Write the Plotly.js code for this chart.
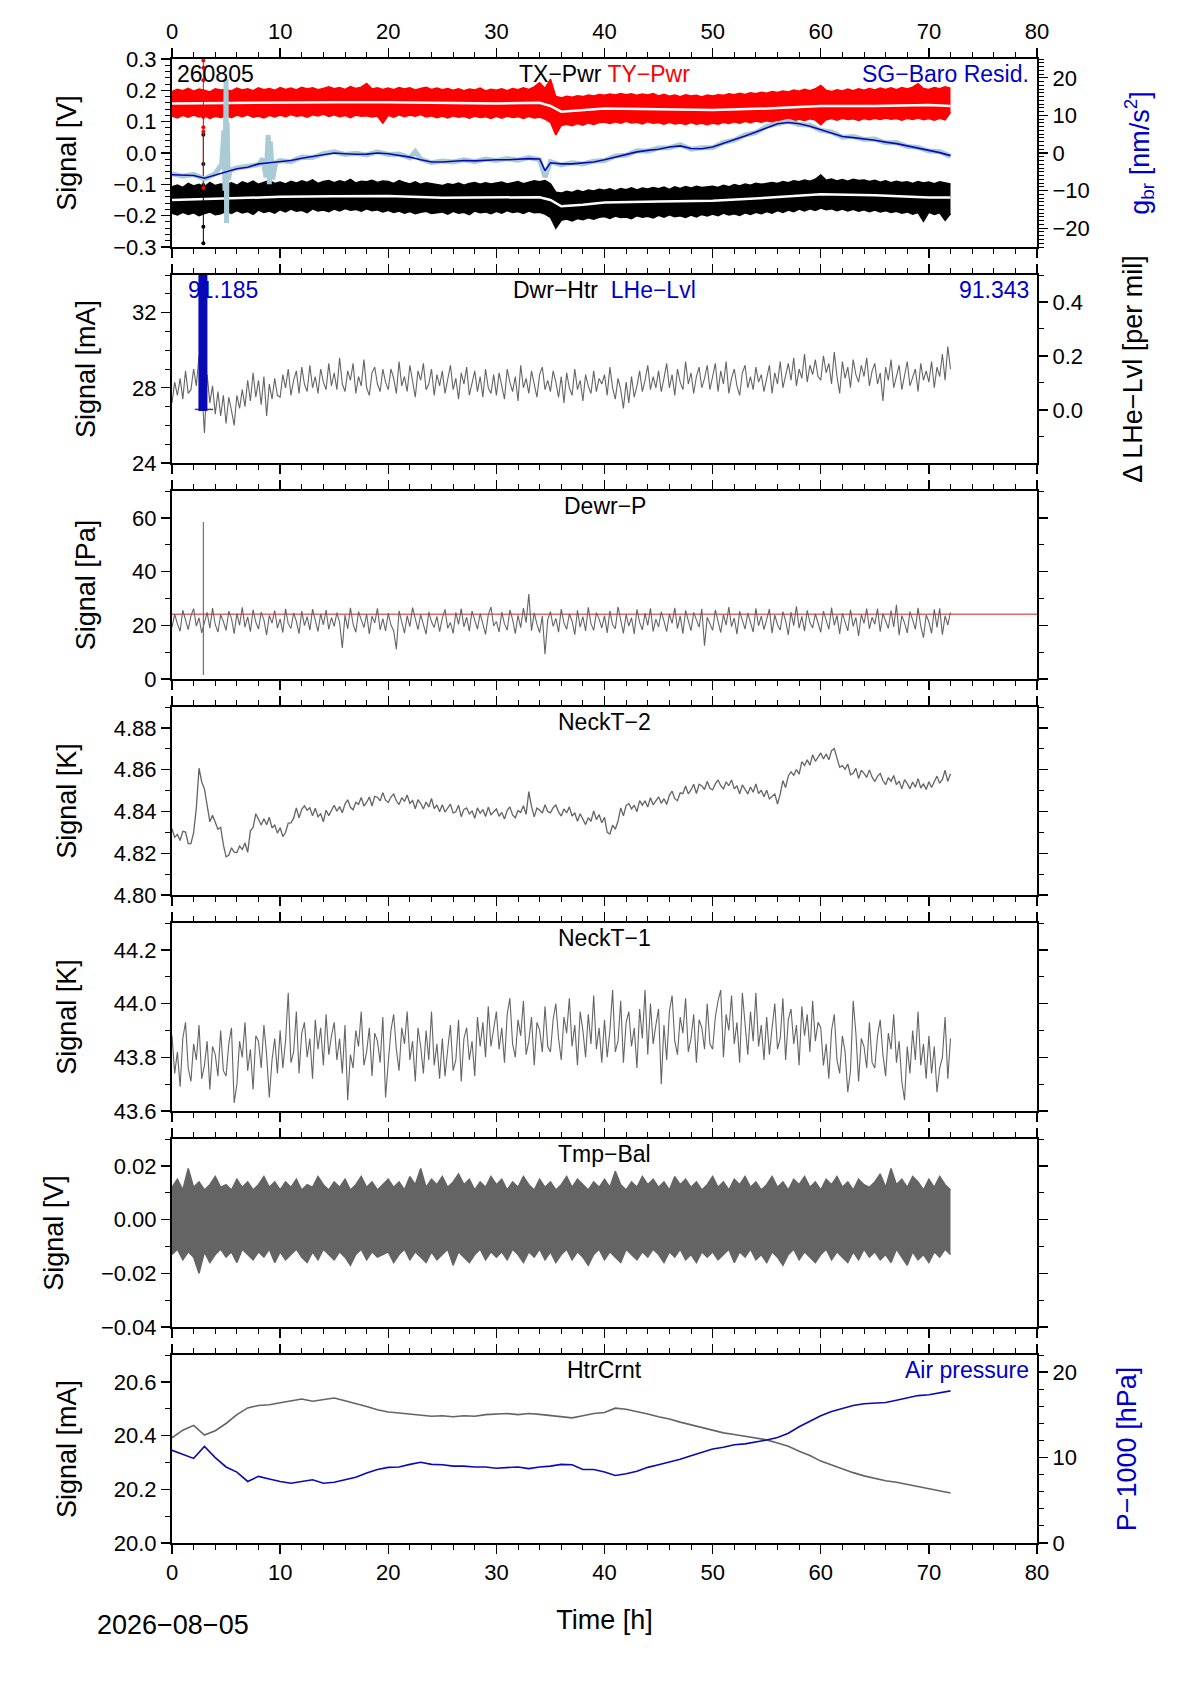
<!DOCTYPE html>
<html>
<head>
<meta charset="utf-8">
<title>Dewar monitor 2026-08-05</title>
<script src="https://cdn.plot.ly/plotly-3.0.1.min.js"></script>
<style>
  html, body { margin: 0; padding: 0; background: #ffffff; }
  #chart { width: 1190px; height: 1684px; }
</style>
</head>
<body>
<div id="chart"></div>
<script>
// ---------------------------------------------------------------------------
// Data. Time is in hours since start of day 2026-08-05.
// Half-hour series start at 0 h with 0.5 h spacing (145 samples, 0..72 h),
// quarter-hour series use 0.25 h spacing (289 samples), hourly ones 1 h.
// ---------------------------------------------------------------------------

// Panel 1: tilt power X/Y [V], upper and lower envelope per half hour
const txPwrUpper = [
  -0.108, -0.102, -0.110, -0.097, -0.105, -0.100, -0.109, -0.094, -0.104, -0.099,
  -0.101, -0.095, -0.103, -0.092, -0.098, -0.090, -0.100, -0.094, -0.088, -0.097,
  -0.093, -0.099, -0.090, -0.096, -0.089, -0.094, -0.086, -0.097, -0.091, -0.088,
  -0.095, -0.089, -0.093, -0.084, -0.096, -0.090, -0.092, -0.087, -0.094, -0.089,
  -0.091, -0.097, -0.088, -0.094, -0.099, -0.092, -0.100, -0.095, -0.098, -0.102,
  -0.104, -0.098, -0.101, -0.096, -0.103, -0.097, -0.094, -0.100, -0.095, -0.099,
  -0.097, -0.093, -0.099, -0.095, -0.091, -0.098, -0.094, -0.089, -0.092, -0.088,
  -0.098, -0.125, -0.128, -0.122, -0.126, -0.119, -0.124, -0.118, -0.121, -0.116,
  -0.119, -0.114, -0.120, -0.113, -0.117, -0.111, -0.118, -0.112, -0.115, -0.110,
  -0.114, -0.109, -0.116, -0.108, -0.113, -0.107, -0.112, -0.106, -0.110, -0.108,
  -0.106, -0.110, -0.103, -0.108, -0.101, -0.105, -0.099, -0.103, -0.097, -0.100,
  -0.098, -0.094, -0.097, -0.091, -0.095, -0.089, -0.092, -0.086, -0.090, -0.084,
  -0.070, -0.087, -0.083, -0.089, -0.085, -0.090, -0.084, -0.088, -0.086, -0.091,
  -0.087, -0.093, -0.089, -0.095, -0.090, -0.094, -0.092, -0.097, -0.091, -0.096,
  -0.093, -0.098, -0.092, -0.096, -0.099
];
const txPwrLower = [
  -0.192, -0.198, -0.189, -0.196, -0.191, -0.200, -0.193, -0.188, -0.197, -0.194,
  -0.186, -0.193, -0.184, -0.191, -0.187, -0.196, -0.182, -0.190, -0.185, -0.192,
  -0.181, -0.188, -0.179, -0.186, -0.183, -0.190, -0.178, -0.185, -0.182, -0.187,
  -0.179, -0.185, -0.177, -0.183, -0.180, -0.186, -0.178, -0.184, -0.181, -0.188,
  -0.183, -0.190, -0.185, -0.192, -0.187, -0.194, -0.189, -0.186, -0.193, -0.190,
  -0.188, -0.195, -0.186, -0.192, -0.189, -0.197, -0.185, -0.191, -0.188, -0.194,
  -0.186, -0.192, -0.184, -0.190, -0.187, -0.193, -0.185, -0.191, -0.189, -0.195,
  -0.205, -0.240, -0.215, -0.211, -0.217, -0.209, -0.213, -0.207, -0.211, -0.205,
  -0.203, -0.209, -0.201, -0.206, -0.204, -0.210, -0.200, -0.205, -0.202, -0.207,
  -0.199, -0.205, -0.197, -0.203, -0.200, -0.206, -0.198, -0.204, -0.196, -0.201,
  -0.195, -0.200, -0.192, -0.198, -0.194, -0.199, -0.191, -0.196, -0.189, -0.194,
  -0.187, -0.192, -0.184, -0.190, -0.182, -0.187, -0.179, -0.185, -0.178, -0.183,
  -0.176, -0.181, -0.178, -0.184, -0.179, -0.185, -0.180, -0.186, -0.181, -0.187,
  -0.182, -0.188, -0.184, -0.190, -0.186, -0.192, -0.188, -0.195, -0.190, -0.218,
  -0.189, -0.196, -0.191, -0.215, -0.194
];
const tyPwrUpper = [
  0.196, 0.203, 0.199, 0.206, 0.197, 0.204, 0.200, 0.195, 0.205, 0.201,
  0.203, 0.198, 0.207, 0.201, 0.205, 0.199, 0.208, 0.202, 0.206, 0.200,
  0.209, 0.203, 0.207, 0.201, 0.210, 0.204, 0.208, 0.202, 0.206, 0.211,
  0.205, 0.209, 0.203, 0.212, 0.206, 0.210, 0.222, 0.204, 0.208, 0.203,
  0.207, 0.202, 0.209, 0.204, 0.208, 0.201, 0.206, 0.210, 0.203, 0.207,
  0.202, 0.206, 0.200, 0.205, 0.199, 0.204, 0.201, 0.207, 0.198, 0.203,
  0.200, 0.205, 0.199, 0.206, 0.202, 0.208, 0.203, 0.211, 0.224, 0.206,
  0.236, 0.180, 0.176, 0.181, 0.178, 0.183, 0.180, 0.185, 0.182, 0.187,
  0.184, 0.188, 0.185, 0.190, 0.186, 0.189, 0.184, 0.188, 0.185, 0.190,
  0.182, 0.187, 0.181, 0.185, 0.180, 0.186, 0.182, 0.184, 0.179, 0.185,
  0.182, 0.186, 0.184, 0.189, 0.186, 0.191, 0.187, 0.192, 0.189, 0.194,
  0.191, 0.196, 0.193, 0.198, 0.195, 0.201, 0.197, 0.203, 0.199, 0.205,
  0.216, 0.200, 0.196, 0.202, 0.198, 0.204, 0.199, 0.205, 0.200, 0.206,
  0.201, 0.207, 0.203, 0.208, 0.202, 0.209, 0.204, 0.210, 0.221, 0.206,
  0.203, 0.209, 0.205, 0.211, 0.207
];
const tyPwrLower = [
  0.118, 0.112, 0.120, 0.114, 0.121, 0.115, 0.119, 0.110, 0.117, 0.113,
  0.119, 0.113, 0.121, 0.116, 0.122, 0.114, 0.118, 0.112, 0.120, 0.115,
  0.121, 0.116, 0.123, 0.117, 0.120, 0.114, 0.122, 0.118, 0.124, 0.117,
  0.122, 0.116, 0.120, 0.113, 0.121, 0.117, 0.119, 0.115, 0.118, 0.095,
  0.120, 0.114, 0.122, 0.116, 0.121, 0.117, 0.123, 0.115, 0.119, 0.113,
  0.118, 0.112, 0.119, 0.114, 0.117, 0.111, 0.118, 0.113, 0.116, 0.110,
  0.117, 0.111, 0.118, 0.113, 0.116, 0.110, 0.117, 0.112, 0.115, 0.108,
  0.098, 0.058, 0.088, 0.092, 0.087, 0.094, 0.089, 0.096, 0.091, 0.097,
  0.099, 0.094, 0.100, 0.095, 0.101, 0.096, 0.098, 0.093, 0.100, 0.095,
  0.097, 0.092, 0.098, 0.093, 0.096, 0.091, 0.097, 0.092, 0.095, 0.090,
  0.096, 0.092, 0.098, 0.094, 0.100, 0.095, 0.101, 0.097, 0.102, 0.098,
  0.103, 0.099, 0.105, 0.101, 0.107, 0.102, 0.108, 0.104, 0.109, 0.105,
  0.090, 0.106, 0.110, 0.105, 0.111, 0.107, 0.109, 0.104, 0.110, 0.106,
  0.111, 0.107, 0.112, 0.108, 0.110, 0.105, 0.111, 0.107, 0.112, 0.106,
  0.110, 0.105, 0.111, 0.106, 0.130
];
const pwrMeanTimes = [0, 5, 10, 15, 20, 25, 30, 34, 35, 36, 38, 40, 45, 50, 55, 60, 65, 70, 72];
const txPwrMean = [-0.150, -0.145, -0.140, -0.138, -0.137, -0.143, -0.142, -0.141, -0.150, -0.170,
  -0.165, -0.158, -0.155, -0.152, -0.143, -0.132, -0.135, -0.142, -0.142];
const tyPwrMean = [0.158, 0.160, 0.162, 0.162, 0.162, 0.160, 0.158, 0.160, 0.150, 0.132,
  0.138, 0.142, 0.140, 0.137, 0.142, 0.150, 0.150, 0.153, 0.150];

// the disturbance near 2.9 h
const txSpikeTimes = [2.9, 2.9, 2.9, 2.9, 2.9, 2.9, 2.9];
const txSpikeValues = [0.058, -0.035, -0.102, -0.118, -0.185, -0.235, -0.288];
const tySpikeTimes = [2.9, 2.9, 2.9, 2.9, 2.9, 2.9, 2.9, 2.9];
const tySpikeValues = [0.295, 0.272, 0.232, 0.190, 0.115, 0.082, 0.068, -0.112];

// Panel 1, right axis: SG minus barometric response [nm/s^2]
const sgResidTimes = [
  0, 1, 2, 3, 4, 5, 6, 7, 8, 9, 10, 11, 12, 13, 14, 15, 16, 17, 18, 19,
  20, 21, 22, 23, 24, 25, 26, 27, 28, 29, 30, 31, 32, 33, 34, 34.5, 35, 36, 37, 38, 39,
  40, 41, 42, 43, 44, 45, 46, 47, 48, 49, 50, 51, 52, 53, 54, 55, 56, 57, 58, 59,
  60, 61, 62, 63, 64, 65, 66, 67, 68, 69, 70, 71, 72
];
const sgResidValues = [
  -5.8, -5.9, -6.0, -6.7, -5.8, -4.9, -4.2, -3.8, -2.9, -2.6,
  -2.3, -2.0, -1.4, -0.9, -0.45, 0.0, -0.2, -0.35, -0.3, 0.0,
  -0.2, -0.6, -1.1, -1.8, -2.4, -2.4, -2.2, -2.0, -2.1, -1.9,
  -1.8, -1.8, -1.7, -1.5, -1.6, -4.7, -2.6, -2.9, -2.9, -2.7, -2.4,
  -1.8, -1.1, -0.35, 0.3, 0.7, 1.0, 1.6, 1.9, 1.2, 1.15,
  1.6, 2.5, 3.6, 4.5, 5.6, 6.8, 7.8, 8.1, 7.8, 7.1,
  6.2, 5.3, 4.4, 4.1, 3.8, 3.4, 2.9, 2.5, 1.9, 1.2,
  0.7, 0.1, -0.7
];
const sgRawTimes = [
  0, 1, 2, 3, 4, 4.6, 4.8, 4.9, 5, 5.05, 5.1, 5.2, 5.4, 6, 7, 8,
  8.4, 8.7, 8.9, 9, 9.1, 9.3, 9.6, 10, 11, 12, 13, 14, 15, 16, 17, 18, 19,
  20, 21, 22, 22.5, 23, 24, 25, 26, 27, 28, 29, 30, 31, 32, 33, 34, 34.5, 35, 36, 37, 38, 39,
  40, 41, 42, 43, 44, 45, 46, 47, 48, 49, 50, 51, 52, 53, 54, 55, 56, 57, 58, 59,
  60, 61, 62, 63, 64, 65, 66, 67, 68, 69, 70, 71, 72
];
const sgRawValues = [
  -5.5, -6.2, -5.7, -6.9, -5.5, -3.0, 6.0, -10.0, 19.6, -18.6, 8.0, -7.0, -4.5, -4.0, -3.5, -3.1,
  -1.5, -6.5, 4.8, -8.3, 3.0, -7.0, -2.5, -2.0, -2.3, -1.1, -1.2, -0.2, 0.3, -0.4, -0.1, -0.5, 0.3,
  -0.4, -0.3, -1.3, 0.4, -1.6, -2.6, -2.1, -2.4, -1.8, -2.3, -1.6, -2.0, -1.5, -1.9, -1.2, -1.8, -6.4, -2.3, -3.2, -2.6, -2.9, -2.2,
  -2.0, -0.8, -0.6, 0.6, 0.5, 1.3, 1.4, 2.2, 1.0, 1.4, 1.4, 2.8, 3.4, 4.8, 5.4, 7.1, 7.6, 8.4, 7.6, 7.4,
  6.0, 5.6, 4.2, 4.4, 3.6, 3.7, 2.7, 2.8, 1.7, 1.5, 0.5, 0.4, -0.9
];

// Panel 2: dewar heater current [mA] (quarter-hourly), helium level marker
const dwrHtrValues = [
  27.2, 28.3, 27.6, 28.5, 27.4, 28.9, 27.7, 27.9, 29.0, 28.1, 29.7, 28.0, 25.6, 28.7, 27.2, 28.1, 26.6, 27.8, 26.5, 27.6,
  26.1, 27.5, 26.8, 26.0, 27.6, 26.9, 27.9, 27.0, 28.4, 27.3, 28.8, 27.5, 28.4, 27.1, 28.6, 26.5, 28.2, 27.4, 28.5, 27.6,
  27.5, 28.7, 28.0, 29.0, 27.6, 28.4, 28.9, 27.7, 29.1, 28.2, 27.8, 29.2, 28.0, 28.6, 27.7, 29.0, 28.3, 27.9, 29.3, 28.1,
  28.8, 27.9, 29.6, 28.2, 27.8, 28.9, 28.4, 29.3, 27.7, 28.6, 28.1, 29.5, 28.0, 27.6, 28.8, 29.1, 28.2, 27.8, 29.0, 28.3,
  27.9, 29.0, 28.5, 27.7, 29.4, 28.1, 28.6, 27.8, 29.2, 28.3, 27.5, 28.9, 28.4, 29.3, 27.9, 28.2, 29.0, 27.6, 28.7, 28.1,
  28.9, 27.7, 28.4, 29.2, 27.9, 28.5, 27.4, 28.8, 28.2, 29.1, 27.6, 28.3, 28.9, 27.8, 28.6, 27.5, 29.0, 28.0, 27.7, 28.7,
  27.6, 28.8, 28.1, 27.4, 29.0, 28.3, 27.8, 28.6, 27.3, 29.2, 28.0, 28.5, 27.7, 28.9, 28.2, 27.5, 28.7, 29.1, 27.9, 28.4,
  27.8, 28.9, 28.3, 27.5, 28.6, 27.2, 28.8, 28.0, 27.6, 29.0, 27.9, 28.4, 27.3, 28.7, 28.1, 27.7, 28.9, 27.8, 28.5, 28.2,
  28.7, 27.6, 29.1, 28.0, 27.4, 28.5, 27.9, 26.9, 28.3, 27.2, 28.6, 27.5, 28.1, 28.9, 27.8, 28.4, 29.2, 27.9, 28.6, 28.0,
  28.9, 27.8, 28.5, 29.3, 28.0, 28.7, 27.6, 29.0, 28.3, 27.9, 29.4, 28.2, 28.8, 27.7, 28.6, 29.1, 28.0, 28.5, 29.2, 27.9,
  28.6, 29.3, 27.8, 28.9, 28.2, 29.4, 27.7, 28.5, 29.0, 28.1, 27.6, 28.8, 29.2, 28.0, 28.6, 27.9, 29.1, 28.3, 28.7, 27.8,
  28.5, 29.2, 27.7, 28.8, 28.2, 29.4, 28.0, 28.6, 29.3, 28.4, 29.6, 28.1, 29.0, 28.5, 29.8, 28.3, 29.2, 28.7, 29.5, 28.6,
  28.4, 29.7, 28.8, 29.3, 28.2, 29.9, 28.6, 27.7, 29.4, 28.5, 29.1, 28.0, 29.5, 28.7, 28.3, 29.2, 28.6, 29.6, 28.1, 28.9,
  29.3, 28.2, 28.8, 27.3, 29.1, 28.4, 29.5, 28.0, 28.7, 29.2, 27.9, 28.6, 29.4, 28.1, 28.5, 29.0, 27.8, 29.3, 28.4, 28.9,
  28.3, 29.4, 28.0, 29.1, 28.6, 29.8, 28.4, 30.2, 29.0
];
const lheLvlTimes = [2.86, 2.86];
const lheLvlValues = [-0.004, 0.52];
const lheCapTimes = [2.1, 3.8];
const lheCapValues = [26.85, 26.85];

// Panel 3: dewar pressure [Pa] (quarter-hourly) and its alarm level
const dewrPValues = [
  19.2, 24.1, 20.5, 17.8, 25.6, 21.9, 18.4, 23.5, 26.2, 19.7, 22.8, 17.2, 21.0, 24.8, 18.9, 26.4, 20.3, 17.5, 23.9, 21.4,
  18.1, 25.2, 22.6, 16.9, 24.4, 20.0, 26.7, 19.3, 23.1, 17.6, 25.8, 21.2, 18.6, 24.9, 22.0, 16.4, 23.7, 20.8, 25.5, 19.0,
  22.4, 17.3, 26.1, 20.6, 18.8, 24.6, 21.5, 16.9, 25.3, 19.9, 23.2, 18.2, 26.0, 21.8, 17.7, 24.3, 20.2, 25.7, 18.5, 22.9,
  19.6, 24.7, 21.1, 11.6, 23.8, 18.7, 26.5, 20.4, 17.4, 25.1, 22.3, 19.1, 24.2, 16.8, 23.4, 20.9, 26.3, 18.3, 22.5, 17.9,
  24.5, 20.1, 18.0, 11.1, 25.4, 21.6, 17.1, 23.6, 19.5, 26.6, 22.1, 18.4, 24.0, 20.7, 16.7, 25.0, 21.3, 19.2, 23.3, 17.6,
  22.7, 25.9, 18.9, 21.0, 17.0, 24.8, 20.3, 26.2, 19.4, 23.0, 17.8, 25.3, 21.7, 18.6, 24.4, 20.0, 16.6, 23.9, 26.8, 19.8,
  21.4, 17.5, 24.9, 20.5, 18.2, 25.7, 22.2, 16.9, 23.7, 19.1, 26.4, 21.0, 31.6, 18.0, 24.6, 20.4, 17.3, 23.4, 9.2, 22.0,
  25.1, 19.6, 22.6, 17.4, 26.0, 20.9, 18.5, 24.3, 21.5, 16.5, 25.6, 19.3, 23.2, 17.9, 26.7, 20.6, 18.1, 24.7, 22.4, 19.0,
  23.6, 17.2, 25.4, 20.2, 18.7, 26.9, 21.8, 17.0, 24.1, 19.7, 22.8, 16.8, 25.9, 21.1, 18.3, 24.5, 20.0, 26.3, 17.7, 22.3,
  19.4, 25.0, 21.6, 17.6, 24.2, 20.7, 26.5, 18.8, 23.5, 16.9, 25.5, 21.2, 18.0, 24.8, 22.1, 19.3, 26.1, 12.4, 23.0, 20.5,
  18.1, 25.7, 21.9, 17.3, 24.0, 20.1, 26.8, 19.5, 22.7, 16.7, 25.2, 21.4, 18.6, 24.6, 20.8, 17.5, 26.3, 19.8, 23.4, 18.4,
  22.2, 26.0, 17.1, 23.8, 20.3, 18.2, 25.1, 21.7, 16.4, 24.9, 19.9, 27.1, 18.9, 23.3, 17.8, 25.6, 21.0, 19.0, 24.3, 20.6,
  17.4, 25.3, 21.5, 18.5, 26.6, 20.0, 23.7, 16.8, 24.5, 21.2, 17.9, 25.8, 19.6, 22.9, 16.0, 24.1, 20.7, 26.2, 18.7, 23.0,
  20.4, 26.2, 17.6, 24.4, 21.8, 18.8, 25.5, 19.4, 27.6, 16.3, 23.6, 20.9, 17.2, 25.1, 22.0, 18.5, 26.5, 19.7, 15.4, 23.8,
  21.3, 17.0, 25.9, 19.2, 26.3, 16.5, 23.5, 20.1, 24.8
];
const dewrPSpikeTimes = [2.9, 2.9];
const dewrPSpikeValues = [58.5, 1.5];
const dewrPAlarmLevel = 24.1;

// Panel 4: neck temperature 2 [K] (quarter-hourly)
const neckT2Values = [
  4.8317, 4.8276, 4.8290, 4.8261, 4.8305, 4.8301, 4.8246, 4.8246, 4.8299, 4.8417, 4.8607, 4.8541, 4.8508, 4.8437, 4.8351, 4.8382, 4.8352, 4.8315, 4.8324, 4.8241,
  4.8183, 4.8190, 4.8226, 4.8205, 4.8203, 4.8234, 4.8218, 4.8249, 4.8204, 4.8307, 4.8323, 4.8389, 4.8363, 4.8335, 4.8365, 4.8336, 4.8372, 4.8321, 4.8335, 4.8296,
  4.8322, 4.8280, 4.8299, 4.8344, 4.8345, 4.8368, 4.8417, 4.8369, 4.8410, 4.8427, 4.8406, 4.8418, 4.8379, 4.8415, 4.8375, 4.8389, 4.8351, 4.8406, 4.8380, 4.8407,
  4.8430, 4.8401, 4.8423, 4.8394, 4.8435, 4.8456, 4.8420, 4.8408, 4.8444, 4.8434, 4.8467, 4.8426, 4.8443, 4.8469, 4.8426, 4.8472, 4.8468, 4.8451, 4.8490, 4.8454,
  4.8443, 4.8469, 4.8484, 4.8451, 4.8433, 4.8466, 4.8448, 4.8479, 4.8438, 4.8452, 4.8413, 4.8456, 4.8438, 4.8412, 4.8445, 4.8421, 4.8462, 4.8414, 4.8431, 4.8399,
  4.8432, 4.8397, 4.8416, 4.8435, 4.8393, 4.8398, 4.8430, 4.8375, 4.8410, 4.8417, 4.8388, 4.8402, 4.8367, 4.8417, 4.8391, 4.8409, 4.8376, 4.8421, 4.8384, 4.8400,
  4.8412, 4.8377, 4.8395, 4.8364, 4.8405, 4.8422, 4.8383, 4.8370, 4.8404, 4.8395, 4.8427, 4.8386, 4.8495, 4.8423, 4.8374, 4.8416, 4.8407, 4.8392, 4.8432, 4.8400,
  4.8393, 4.8418, 4.8431, 4.8398, 4.8378, 4.8412, 4.8393, 4.8422, 4.8378, 4.8392, 4.8353, 4.8389, 4.8363, 4.8337, 4.8370, 4.8353, 4.8402, 4.8361, 4.8385, 4.8346,
  4.8372, 4.8300, 4.8292, 4.8334, 4.8315, 4.8353, 4.8417, 4.8379, 4.8428, 4.8438, 4.8412, 4.8430, 4.8399, 4.8452, 4.8430, 4.8451, 4.8421, 4.8466, 4.8432, 4.8453,
  4.8470, 4.8439, 4.8461, 4.8433, 4.8477, 4.8497, 4.8461, 4.8451, 4.8489, 4.8485, 4.8522, 4.8484, 4.8503, 4.8530, 4.8486, 4.8530, 4.8522, 4.8505, 4.8544, 4.8511,
  4.8503, 4.8532, 4.8551, 4.8523, 4.8508, 4.8542, 4.8523, 4.8551, 4.8508, 4.8523, 4.8485, 4.8527, 4.8508, 4.8484, 4.8517, 4.8492, 4.8532, 4.8485, 4.8502, 4.8470,
  4.8502, 4.8460, 4.8472, 4.8484, 4.8435, 4.8483, 4.8547, 4.8514, 4.8570, 4.8590, 4.8573, 4.8601, 4.8579, 4.8638, 4.8620, 4.8647, 4.8621, 4.8671, 4.8640, 4.8662,
  4.8680, 4.8651, 4.8675, 4.8647, 4.8691, 4.8701, 4.8650, 4.8611, 4.8619, 4.8602, 4.8627, 4.8576, 4.8583, 4.8606, 4.8558, 4.8597, 4.8582, 4.8563, 4.8599, 4.8564,
  4.8543, 4.8568, 4.8582, 4.8548, 4.8528, 4.8562, 4.8544, 4.8572, 4.8528, 4.8545, 4.8508, 4.8552, 4.8533, 4.8508, 4.8541, 4.8516, 4.8557, 4.8512, 4.8533, 4.8505,
  4.8542, 4.8515, 4.8542, 4.8569, 4.8535, 4.8553, 4.8597, 4.8544, 4.8580
];

// Panel 5: neck temperature 1 [K] (quarter-hourly)
const neckT1Values = [
  43.88, 43.74, 43.82, 43.69, 43.87, 43.93, 43.76, 43.71, 43.85, 43.79, 43.92, 43.72, 43.77, 43.86, 43.68, 43.84, 43.81, 43.73, 43.90, 43.75,
  43.73, 43.85, 43.91, 43.63, 43.70, 43.86, 43.80, 43.93, 43.75, 43.83, 43.68, 43.88, 43.86, 43.76, 43.92, 43.81, 43.65, 43.79, 43.87, 43.74,
  43.90, 43.76, 43.86, 44.04, 43.78, 43.82, 43.97, 43.74, 43.89, 43.93, 43.80, 43.87, 43.72, 43.94, 43.83, 43.91, 43.77, 43.96, 43.81, 43.88,
  43.93, 43.79, 43.87, 43.74, 43.92, 43.64, 43.81, 43.76, 43.90, 43.84, 43.97, 43.77, 43.82, 43.91, 43.73, 43.89, 43.86, 43.78, 43.95, 43.65,
  43.78, 43.90, 43.96, 43.83, 43.75, 43.91, 43.85, 43.97, 43.79, 43.86, 43.71, 43.91, 43.84, 43.74, 43.90, 43.79, 43.97, 43.77, 43.85, 43.72,
  43.87, 43.73, 43.83, 43.92, 43.75, 43.79, 43.94, 43.71, 43.87, 43.91, 43.79, 43.86, 43.73, 43.95, 43.84, 43.93, 43.80, 43.99, 43.84, 43.91,
  43.97, 43.83, 43.91, 43.78, 43.96, 44.02, 43.85, 43.80, 43.94, 43.88, 44.01, 43.81, 43.86, 43.95, 43.77, 43.93, 43.90, 43.82, 43.99, 43.84,
  43.82, 43.94, 44.00, 43.87, 43.79, 43.95, 43.89, 44.02, 43.84, 43.92, 43.77, 43.97, 43.90, 43.80, 43.96, 43.85, 44.03, 43.83, 43.91, 43.78,
  43.94, 43.80, 43.90, 44.05, 43.82, 43.86, 44.01, 43.78, 43.93, 43.97, 43.84, 43.91, 43.76, 43.98, 43.87, 44.05, 43.81, 44.00, 43.85, 43.92,
  43.98, 43.70, 43.92, 43.79, 43.97, 44.03, 43.86, 43.81, 43.95, 43.89, 44.02, 43.82, 43.87, 43.96, 43.78, 43.94, 43.91, 43.83, 44.00, 43.85,
  43.83, 43.95, 44.01, 44.05, 43.80, 43.96, 43.90, 44.03, 43.85, 43.93, 43.78, 44.04, 43.91, 43.81, 43.97, 43.86, 44.04, 43.84, 43.92, 43.79,
  43.95, 43.81, 43.91, 44.00, 43.83, 43.87, 44.02, 43.79, 43.94, 43.98, 43.85, 43.92, 43.77, 43.99, 43.88, 43.96, 43.82, 44.01, 43.86, 43.93,
  43.91, 43.77, 43.85, 43.72, 43.90, 43.96, 43.79, 43.74, 43.88, 43.82, 43.67, 43.75, 44.01, 43.89, 43.71, 43.87, 43.84, 43.76, 43.93, 43.78,
  43.76, 43.88, 43.94, 43.81, 43.73, 43.89, 43.83, 43.96, 43.78, 43.86, 43.71, 43.64, 43.84, 43.74, 43.90, 43.79, 43.97, 43.77, 43.85, 43.72,
  43.88, 43.74, 43.84, 43.67, 43.76, 43.80, 43.95, 43.72, 43.87
];

// Panel 6: temperature balance [V], upper and lower envelope per half hour
const tmpBalUpper = [
  0.012, 0.015, 0.011, 0.019, 0.012, 0.014, 0.011, 0.013, 0.016, 0.012,
  0.013, 0.011, 0.015, 0.012, 0.014, 0.011, 0.013, 0.016, 0.012, 0.014,
  0.011, 0.014, 0.012, 0.015, 0.011, 0.013, 0.012, 0.016, 0.013, 0.011,
  0.014, 0.012, 0.015, 0.011, 0.013, 0.016, 0.012, 0.014, 0.011, 0.013,
  0.015, 0.012, 0.014, 0.011, 0.016, 0.013, 0.019, 0.012, 0.015, 0.013,
  0.016, 0.012, 0.014, 0.017, 0.013, 0.015, 0.011, 0.014, 0.012, 0.016,
  0.013, 0.015, 0.011, 0.014, 0.012, 0.016, 0.013, 0.011, 0.015, 0.012,
  0.014, 0.011, 0.013, 0.016, 0.012, 0.015, 0.013, 0.011, 0.014, 0.012,
  0.015, 0.012, 0.018, 0.013, 0.011, 0.014, 0.012, 0.016, 0.013, 0.015,
  0.012, 0.014, 0.011, 0.016, 0.013, 0.015, 0.012, 0.014, 0.011, 0.013,
  0.016, 0.012, 0.014, 0.011, 0.015, 0.013, 0.016, 0.012, 0.014, 0.011,
  0.013, 0.016, 0.012, 0.014, 0.011, 0.015, 0.013, 0.016, 0.012, 0.014,
  0.011, 0.015, 0.013, 0.016, 0.012, 0.014, 0.011, 0.015, 0.013, 0.012,
  0.014, 0.017, 0.012, 0.019, 0.013, 0.015, 0.012, 0.016, 0.014, 0.011,
  0.015, 0.012, 0.016, 0.013, 0.011
];
const tmpBalLower = [
  -0.013, -0.011, -0.015, -0.012, -0.014, -0.020, -0.012, -0.016, -0.013, -0.011,
  -0.014, -0.012, -0.016, -0.011, -0.013, -0.015, -0.012, -0.014, -0.011, -0.016,
  -0.012, -0.015, -0.013, -0.011, -0.014, -0.016, -0.012, -0.015, -0.011, -0.013,
  -0.015, -0.012, -0.014, -0.017, -0.013, -0.011, -0.015, -0.012, -0.014, -0.013,
  -0.012, -0.016, -0.013, -0.011, -0.015, -0.012, -0.014, -0.016, -0.012, -0.015,
  -0.013, -0.011, -0.017, -0.012, -0.014, -0.016, -0.013, -0.011, -0.015, -0.012,
  -0.014, -0.012, -0.015, -0.011, -0.013, -0.016, -0.012, -0.014, -0.011, -0.015,
  -0.012, -0.016, -0.013, -0.011, -0.015, -0.012, -0.014, -0.017, -0.013, -0.011,
  -0.015, -0.012, -0.014, -0.016, -0.011, -0.013, -0.015, -0.012, -0.014, -0.011,
  -0.013, -0.016, -0.012, -0.014, -0.011, -0.015, -0.013, -0.016, -0.012, -0.014,
  -0.012, -0.015, -0.013, -0.011, -0.016, -0.012, -0.014, -0.011, -0.015, -0.013,
  -0.016, -0.012, -0.014, -0.017, -0.013, -0.011, -0.015, -0.012, -0.014, -0.016,
  -0.013, -0.011, -0.015, -0.012, -0.014, -0.016, -0.012, -0.015, -0.011, -0.014,
  -0.012, -0.015, -0.013, -0.016, -0.011, -0.014, -0.017, -0.012, -0.015, -0.013,
  -0.016, -0.012, -0.014, -0.011, -0.013
];

// Panel 7: heater current [mA] and air pressure minus 1000 hPa (hourly)
const htrCrntValues = [
  20.392, 20.420, 20.438, 20.402, 20.418, 20.445, 20.478, 20.503, 20.512, 20.515,
  20.522, 20.530, 20.536, 20.528, 20.535, 20.540, 20.530, 20.520, 20.508, 20.496,
  20.488, 20.484, 20.480, 20.476, 20.472, 20.474, 20.470, 20.474, 20.472, 20.478,
  20.480, 20.482, 20.478, 20.482, 20.479, 20.474, 20.470, 20.466, 20.474, 20.482,
  20.486, 20.502, 20.498, 20.490, 20.480, 20.470, 20.462, 20.450, 20.440, 20.428,
  20.420, 20.410, 20.404, 20.398, 20.392, 20.384, 20.372, 20.360, 20.342, 20.326,
  20.305, 20.290, 20.275, 20.262, 20.250, 20.240, 20.232, 20.226, 20.218, 20.210,
  20.202, 20.195, 20.186
];
const airPressureValues = [
  10.85, 10.4, 9.9, 11.3, 10.0, 8.9, 8.3, 7.2, 7.8, 7.5,
  7.2, 7.0, 7.2, 7.4, 7.0, 7.1, 7.4, 7.7, 8.2, 8.6,
  8.85, 8.9, 9.2, 9.45, 9.2, 9.15, 9.0, 9.0, 8.9, 8.9,
  8.75, 8.8, 8.9, 8.7, 8.9, 9.0, 9.2, 9.15, 8.6, 8.6,
  8.3, 7.9, 8.1, 8.4, 8.85, 9.15, 9.45, 9.8, 10.2, 10.6,
  11.0, 11.2, 11.5, 11.6, 11.8, 12.05, 12.35, 12.85, 13.6, 14.25,
  14.9, 15.4, 15.75, 16.1, 16.3, 16.4, 16.45, 16.7, 17.0, 17.25,
  17.35, 17.55, 17.8
];

// ---------------------------------------------------------------------------
// Layout constants
// ---------------------------------------------------------------------------
const FIG_WIDTH = 1190;
const FIG_HEIGHT = 1684;
const MARGIN = { l: 172, r: 153, t: 59, b: 139, pad: 0 };
const PANEL_TOPS_PX = [59, 275, 491, 707, 923, 1139, 1355];
const PANEL_HEIGHT_PX = 188;

const FONT_FAMILY = 'Liberation Sans, Arial, Helvetica, sans-serif';
const TICK_FONT_SIZE = 22;
const TITLE_FONT_SIZE = 27;
const LABEL_FONT_SIZE = 23;

const COLOR_SIGNAL = '#646464';
const COLOR_RED = '#ff0000';
const COLOR_BLUE = '#0a0ab4';
const COLOR_BLUE_TEXT = '#0000c8';
const COLOR_LIGHT_BLUE = '#a9cbd5';

/**
 * Axis suffix used by plotly for panel n (1-based): '' for the first one.
 * @param {number} n
 */
function axisSuffix(n) {
  return n === 1 ? '' : String(n);
}

/**
 * Vertical paper domain of a panel, computed from its pixel position.
 * @param {number} n - Panel number (1-based).
 */
function panelDomain(n) {
  const plotHeight = FIG_HEIGHT - MARGIN.t - MARGIN.b;
  const top = 1 - (PANEL_TOPS_PX[n - 1] - MARGIN.t) / plotHeight;
  const bottom = 1 - (PANEL_TOPS_PX[n - 1] + PANEL_HEIGHT_PX - MARGIN.t) / plotHeight;
  return [Math.max(0, bottom), Math.min(1, top)];
}

/**
 * Time axis of a panel. Ticks are drawn on both the top and bottom frame.
 * @param {number} n - Panel number.
 * @param {string} [labelSide] - 'top' or 'bottom' if tick labels are shown.
 */
function timeAxis(n, labelSide) {
  return {
    domain: [0, 1],
    anchor: 'y' + axisSuffix(n),
    range: [0, 80],
    tick0: 0,
    dtick: 10,
    ticks: 'outside',
    ticklen: 9,
    tickwidth: 1.3,
    tickcolor: '#000',
    minor: { dtick: 2, tick0: 0, ticks: 'outside', ticklen: 5, tickwidth: 1, tickcolor: '#000' },
    showline: true,
    linewidth: 2,
    linecolor: '#000',
    mirror: 'ticks',
    showgrid: false,
    zeroline: false,
    showticklabels: Boolean(labelSide),
    side: labelSide || 'bottom',
    tickfont: { size: TICK_FONT_SIZE, color: '#000' },
  };
}

/**
 * Left signal axis of a panel.
 * @param {number} n - Panel number.
 * @param {Object} opts - range, dtick, minor, format, title, mirror.
 */
function signalAxis(n, opts) {
  return {
    domain: panelDomain(n),
    anchor: 'x' + axisSuffix(n),
    range: opts.range,
    tick0: opts.tick0 ?? 0,
    dtick: opts.dtick,
    tickformat: opts.format,
    ticks: 'outside',
    ticklen: 9,
    tickwidth: 1.3,
    tickcolor: '#000',
    minor: { dtick: opts.minor, tick0: opts.tick0 ?? 0, ticks: 'outside', ticklen: 5, tickwidth: 1, tickcolor: '#000' },
    showline: true,
    linewidth: 2,
    linecolor: '#000',
    mirror: opts.mirror,
    showgrid: false,
    zeroline: false,
    tickfont: { size: TICK_FONT_SIZE, color: '#000' },
    title: { text: opts.title, font: { size: TITLE_FONT_SIZE, color: '#000' }, standoff: 29 },
  };
}

/**
 * Right-hand axis that overlays the signal axis of a panel.
 * @param {number} n - Panel number the axis belongs to.
 * @param {Object} opts - range, dtick, minor, format, title, titleColor.
 */
function sideAxis(n, opts) {
  return {
    overlaying: 'y' + axisSuffix(n),
    anchor: 'x' + axisSuffix(n),
    side: 'right',
    range: opts.range,
    tick0: 0,
    dtick: opts.dtick,
    tickformat: opts.format,
    ticks: 'outside',
    ticklen: 9,
    tickwidth: 1.3,
    tickcolor: '#000',
    minor: { dtick: opts.minor, tick0: 0, ticks: 'outside', ticklen: 5, tickwidth: 1, tickcolor: '#000' },
    showline: true,
    linewidth: 2,
    linecolor: '#000',
    showgrid: false,
    zeroline: false,
    tickfont: { size: TICK_FONT_SIZE, color: '#000' },
    title: { text: opts.title, font: { size: TITLE_FONT_SIZE, color: opts.titleColor }, standoff: 41 },
  };
}

/**
 * Line trace on a regular time grid.
 * @param {number} n - Panel number (x axis).
 * @param {string} yAxis - y axis id ('y', 'y8', ...).
 * @param {number[]} values
 * @param {number} step - Sample spacing in hours.
 * @param {Object} style - Extra trace attributes.
 */
function gridTrace(n, yAxis, values, step, style) {
  return {
    type: 'scatter',
    mode: 'lines',
    xaxis: 'x' + axisSuffix(n),
    yaxis: yAxis,
    x0: 0,
    dx: step,
    y: values,
    hoverinfo: 'skip',
    ...style,
  };
}

/**
 * Line trace with explicit sample times.
 */
function timedTrace(n, yAxis, times, values, style) {
  return {
    type: 'scatter',
    mode: 'lines',
    xaxis: 'x' + axisSuffix(n),
    yaxis: yAxis,
    x: times,
    y: values,
    hoverinfo: 'skip',
    ...style,
  };
}

/**
 * Filled band between a lower and an upper envelope on a regular grid.
 * Returns two traces: the lower edge, then the upper edge filled down to it.
 */
function envelopeBand(n, yAxis, lower, upper, step, color) {
  const edge = { color: color, width: 1.5 };
  return [
    gridTrace(n, yAxis, lower, step, { line: edge }),
    gridTrace(n, yAxis, upper, step, { line: edge, fill: 'tonexty', fillcolor: color }),
  ];
}

/**
 * Text placed just below the top frame of a panel.
 * @param {number} n - Panel number.
 * @param {string} text
 * @param {string} align - 'left', 'center' or 'right'.
 * @param {string} [color]
 */
function panelText(n, text, align, color) {
  const ann = {
    xref: 'x' + axisSuffix(n) + ' domain',
    yref: 'y' + axisSuffix(n) + ' domain',
    y: 1,
    yanchor: 'top',
    yshift: 0,
    text: text,
    showarrow: false,
    font: { size: LABEL_FONT_SIZE, color: color || '#000' },
  };
  if (align === 'left') {
    ann.x = 0;
    ann.xanchor = 'left';
    ann.xshift = 3;
  } else if (align === 'right') {
    ann.x = 1;
    ann.xanchor = 'right';
    ann.xshift = -6;
  } else {
    ann.x = 0.5;
    ann.xanchor = 'center';
  }
  return ann;
}

// ---------------------------------------------------------------------------
// Traces
// ---------------------------------------------------------------------------
const traces = [
  // panel 1
  ...envelopeBand(1, 'y', tyPwrLower, tyPwrUpper, 0.5, COLOR_RED),
  timedTrace(1, 'y', pwrMeanTimes, tyPwrMean, { line: { color: '#ffffff', width: 2.5 } }),
  ...envelopeBand(1, 'y', txPwrLower, txPwrUpper, 0.5, '#000000'),
  timedTrace(1, 'y', pwrMeanTimes, txPwrMean, { line: { color: '#ffffff', width: 2.5 } }),
  timedTrace(1, 'y', txSpikeTimes, txSpikeValues, { mode: 'lines+markers', line: { color: '#000000', width: 1 }, marker: { color: '#000000', size: 4 } }),
  timedTrace(1, 'y', tySpikeTimes, tySpikeValues, { mode: 'lines+markers', line: { color: COLOR_RED, width: 1 }, marker: { color: COLOR_RED, size: 4 } }),
  timedTrace(1, 'y8', sgRawTimes, sgRawValues, { line: { color: COLOR_LIGHT_BLUE, width: 5 } }),
  timedTrace(1, 'y8', sgResidTimes, sgResidValues, { line: { color: COLOR_BLUE, width: 1.6 } }),
  // panel 2
  gridTrace(2, 'y2', dwrHtrValues, 0.25, { line: { color: COLOR_SIGNAL, width: 1.1 } }),
  timedTrace(2, 'y2', lheCapTimes, lheCapValues, { line: { color: '#444444', width: 1.5 } }),
  timedTrace(2, 'y9', lheLvlTimes, lheLvlValues, { line: { color: COLOR_BLUE, width: 9 } }),
  // panel 3
  gridTrace(3, 'y3', dewrPValues, 0.25, { line: { color: COLOR_SIGNAL, width: 1.1 } }),
  timedTrace(3, 'y3', dewrPSpikeTimes, dewrPSpikeValues, { line: { color: COLOR_SIGNAL, width: 1.1 } }),
  // panel 4
  gridTrace(4, 'y4', neckT2Values, 0.25, { line: { color: COLOR_SIGNAL, width: 1.3 } }),
  // panel 5
  gridTrace(5, 'y5', neckT1Values, 0.25, { line: { color: COLOR_SIGNAL, width: 1.1 } }),
  // panel 6
  ...envelopeBand(6, 'y6', tmpBalLower, tmpBalUpper, 0.5, COLOR_SIGNAL),
  // panel 7
  gridTrace(7, 'y7', htrCrntValues, 1, { line: { color: COLOR_SIGNAL, width: 1.6 } }),
  gridTrace(7, 'y10', airPressureValues, 1, { line: { color: COLOR_BLUE, width: 1.6 } }),
];

// ---------------------------------------------------------------------------
// Layout
// ---------------------------------------------------------------------------
const layout = {
  width: FIG_WIDTH,
  height: FIG_HEIGHT,
  margin: MARGIN,
  paper_bgcolor: '#ffffff',
  plot_bgcolor: '#ffffff',
  showlegend: false,
  font: { family: FONT_FAMILY, size: TICK_FONT_SIZE, color: '#000' },

  xaxis: timeAxis(1, 'top'),
  xaxis2: timeAxis(2),
  xaxis3: timeAxis(3),
  xaxis4: timeAxis(4),
  xaxis5: timeAxis(5),
  xaxis6: timeAxis(6),
  xaxis7: {
    ...timeAxis(7, 'bottom'),
    title: { text: 'Time [h]', font: { size: TITLE_FONT_SIZE, color: '#000' }, standoff: 26 },
  },

  yaxis: signalAxis(1, { range: [-0.3, 0.3], dtick: 0.1, minor: 0.02, format: '.1f', title: 'Signal [V]', mirror: true }),
  yaxis2: signalAxis(2, { range: [24, 34], dtick: 4, minor: 1, format: 'd', title: 'Signal [mA]', mirror: true }),
  yaxis3: signalAxis(3, { range: [0, 70], dtick: 20, minor: 10, format: 'd', title: 'Signal [Pa]', mirror: 'ticks' }),
  yaxis4: signalAxis(4, { range: [4.80, 4.89], tick0: 4.8, dtick: 0.02, minor: 0.01, format: '.2f', title: 'Signal [K]', mirror: 'ticks' }),
  yaxis5: signalAxis(5, { range: [43.6, 44.3], tick0: 43.6, dtick: 0.2, minor: 0.1, format: '.1f', title: 'Signal [K]', mirror: 'ticks' }),
  yaxis6: signalAxis(6, { range: [-0.04, 0.03], dtick: 0.02, minor: 0.01, format: '.2f', title: 'Signal [V]', mirror: 'ticks' }),
  yaxis7: signalAxis(7, { range: [20.0, 20.7], tick0: 20, dtick: 0.2, minor: 0.1, format: '.1f', title: 'Signal [mA]', mirror: true }),

  yaxis8: sideAxis(1, { range: [-25, 25], dtick: 10, minor: 1, format: 'd', title: 'g<sub>br</sub> [nm/s<sup>2</sup>]', titleColor: COLOR_BLUE_TEXT }),
  yaxis9: sideAxis(2, { range: [-0.197, 0.5], dtick: 0.2, minor: 0.1, format: '.1f', title: '\u0394 LHe\u2212Lvl [per mil]', titleColor: '#000' }),
  yaxis10: sideAxis(7, { range: [0, 22], dtick: 10, minor: 2, format: 'd', title: 'P\u22121000 [hPa]', titleColor: COLOR_BLUE_TEXT }),

  shapes: [
    {
      type: 'line',
      xref: 'x3 domain',
      x0: 0,
      x1: 1,
      yref: 'y3',
      y0: dewrPAlarmLevel,
      y1: dewrPAlarmLevel,
      layer: 'below',
      line: { color: '#e06868', width: 1.3 },
    },
  ],

  annotations: [
    panelText(1, '260805', 'left'),
    panelText(1, 'TX\u2212Pwr <span style="color:' + COLOR_RED + '">TY\u2212Pwr</span>', 'center'),
    panelText(1, 'SG\u2212Baro Resid.', 'right', COLOR_BLUE_TEXT),
    { ...panelText(2, '91.185', 'left', COLOR_BLUE_TEXT), xshift: 14 },
    panelText(2, 'Dwr\u2212Htr  <span style="color:' + COLOR_BLUE_TEXT + '">LHe\u2212Lvl</span>', 'center'),
    panelText(2, '91.343', 'right', COLOR_BLUE_TEXT),
    panelText(3, 'Dewr\u2212P', 'center'),
    panelText(4, 'NeckT\u22122', 'center'),
    panelText(5, 'NeckT\u22121', 'center'),
    panelText(6, 'Tmp\u2212Bal', 'center'),
    panelText(7, 'HtrCrnt', 'center'),
    panelText(7, 'Air pressure', 'right', COLOR_BLUE_TEXT),
    {
      xref: 'paper',
      yref: 'paper',
      x: -0.089,
      xanchor: 'left',
      y: -0.054,
      yanchor: 'middle',
      text: '2026\u221208\u221205',
      showarrow: false,
      font: { size: TITLE_FONT_SIZE, color: '#000' },
    },
  ],
};

Plotly.newPlot('chart', traces, layout, { displayModeBar: false, staticPlot: true });
</script>
</body>
</html>
